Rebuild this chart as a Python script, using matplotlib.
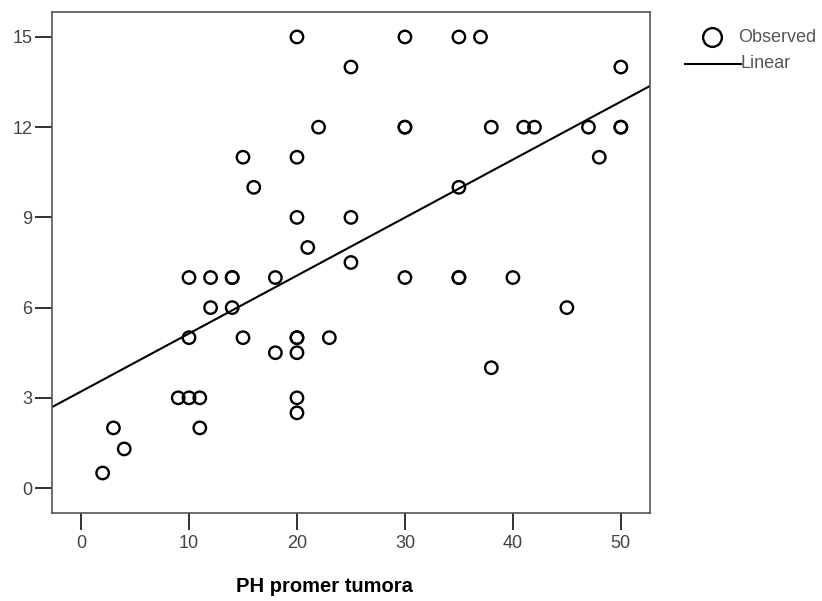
import numpy as np
import matplotlib
matplotlib.use("Agg")
import matplotlib.pyplot as plt
from matplotlib.lines import Line2D

# observed points (PH promer tumora vs y)
ph = [2, 3, 4, 9, 10, 11, 11, 10, 10, 12, 12, 14, 14, 14, 15, 15, 16, 18, 18,
      20, 20, 20, 20, 20, 20, 20, 20, 21, 22, 23, 25, 25, 25,
      30, 30, 30, 30, 35, 35, 35, 35, 37, 38, 38, 40, 41, 42, 45, 47, 48,
      50, 50, 50]
yval = [0.5, 2, 1.3, 3, 3, 3, 2, 5, 7, 7, 6, 7, 7, 6, 11, 5, 10, 7, 4.5,
        15, 11, 9, 5, 5, 4.5, 3, 2.5, 8, 12, 5, 14, 9, 7.5,
        15, 12, 12, 7, 15, 10, 7, 7, 15, 12, 4, 7, 12, 12, 6, 12, 11,
        14, 12, 12]

# linear fit
intercept = 3.21
slope = 0.1928

x_ticks = [0, 10, 20, 30, 40, 50]
y_ticks = [0, 3, 6, 9, 12, 15]
legend_labels = ['Observed', 'Linear']

FONT = ['Liberation Sans', 'DejaVu Sans']
W, H = 822, 601

fig = plt.figure(figsize=(W / 100, H / 100), dpi=100)
ax = fig.add_axes([52 / W, 1 - 513 / H, 598 / W, 501 / H])

xlim = (-2.69, 52.7)
ylim = (-0.83, 15.83)

ax.scatter(ph, yval, s=80, facecolors='none', edgecolors='black',
           linewidths=1.7, zorder=3)
xx = np.array(xlim)
ax.plot(xx, intercept + slope * xx, color='black', lw=1.5, zorder=2)

ax.set_xlim(*xlim)
ax.set_ylim(*ylim)
ax.set_xticks(x_ticks)
ax.set_yticks(y_ticks)
ax.tick_params(direction='out', length=12, width=1.3, color='#222222',
               labelcolor='#444444', labelsize=13)
ax.tick_params(axis='y', pad=2)
ax.tick_params(axis='x', pad=4)
for lab in ax.get_xticklabels() + ax.get_yticklabels():
    lab.set_family(FONT)
for sp in ax.spines.values():
    sp.set_color('#555555')
    sp.set_linewidth(1.2)

fig.text(324 / W, 1 - 587 / H, 'PH promer tumora', ha='center', va='center',
         fontsize=14.5, fontweight='bold', family=FONT)

# legend drawn by hand, outside the plot on the right
fig.add_artist(Line2D([712 / W], [1 - 37 / H], ls='none', marker='o',
                      markersize=13.5, mfc='none', mec='black', mew=1.7,
                      transform=fig.transFigure))
fig.add_artist(Line2D([685 / W, 741 / W], [1 - 64 / H, 1 - 64 / H],
                      color='black', lw=1.5, transform=fig.transFigure))
fig.text(738 / W, 1 - 37 / H, legend_labels[0], ha='left', va='center',
         fontsize=13, color='#555555', family=FONT)
fig.text(740 / W, 1 - 64 / H, legend_labels[1], ha='left', va='center',
         fontsize=13, color='#555555', family=FONT)

fig.savefig('out.png', dpi=100, facecolor='white')
